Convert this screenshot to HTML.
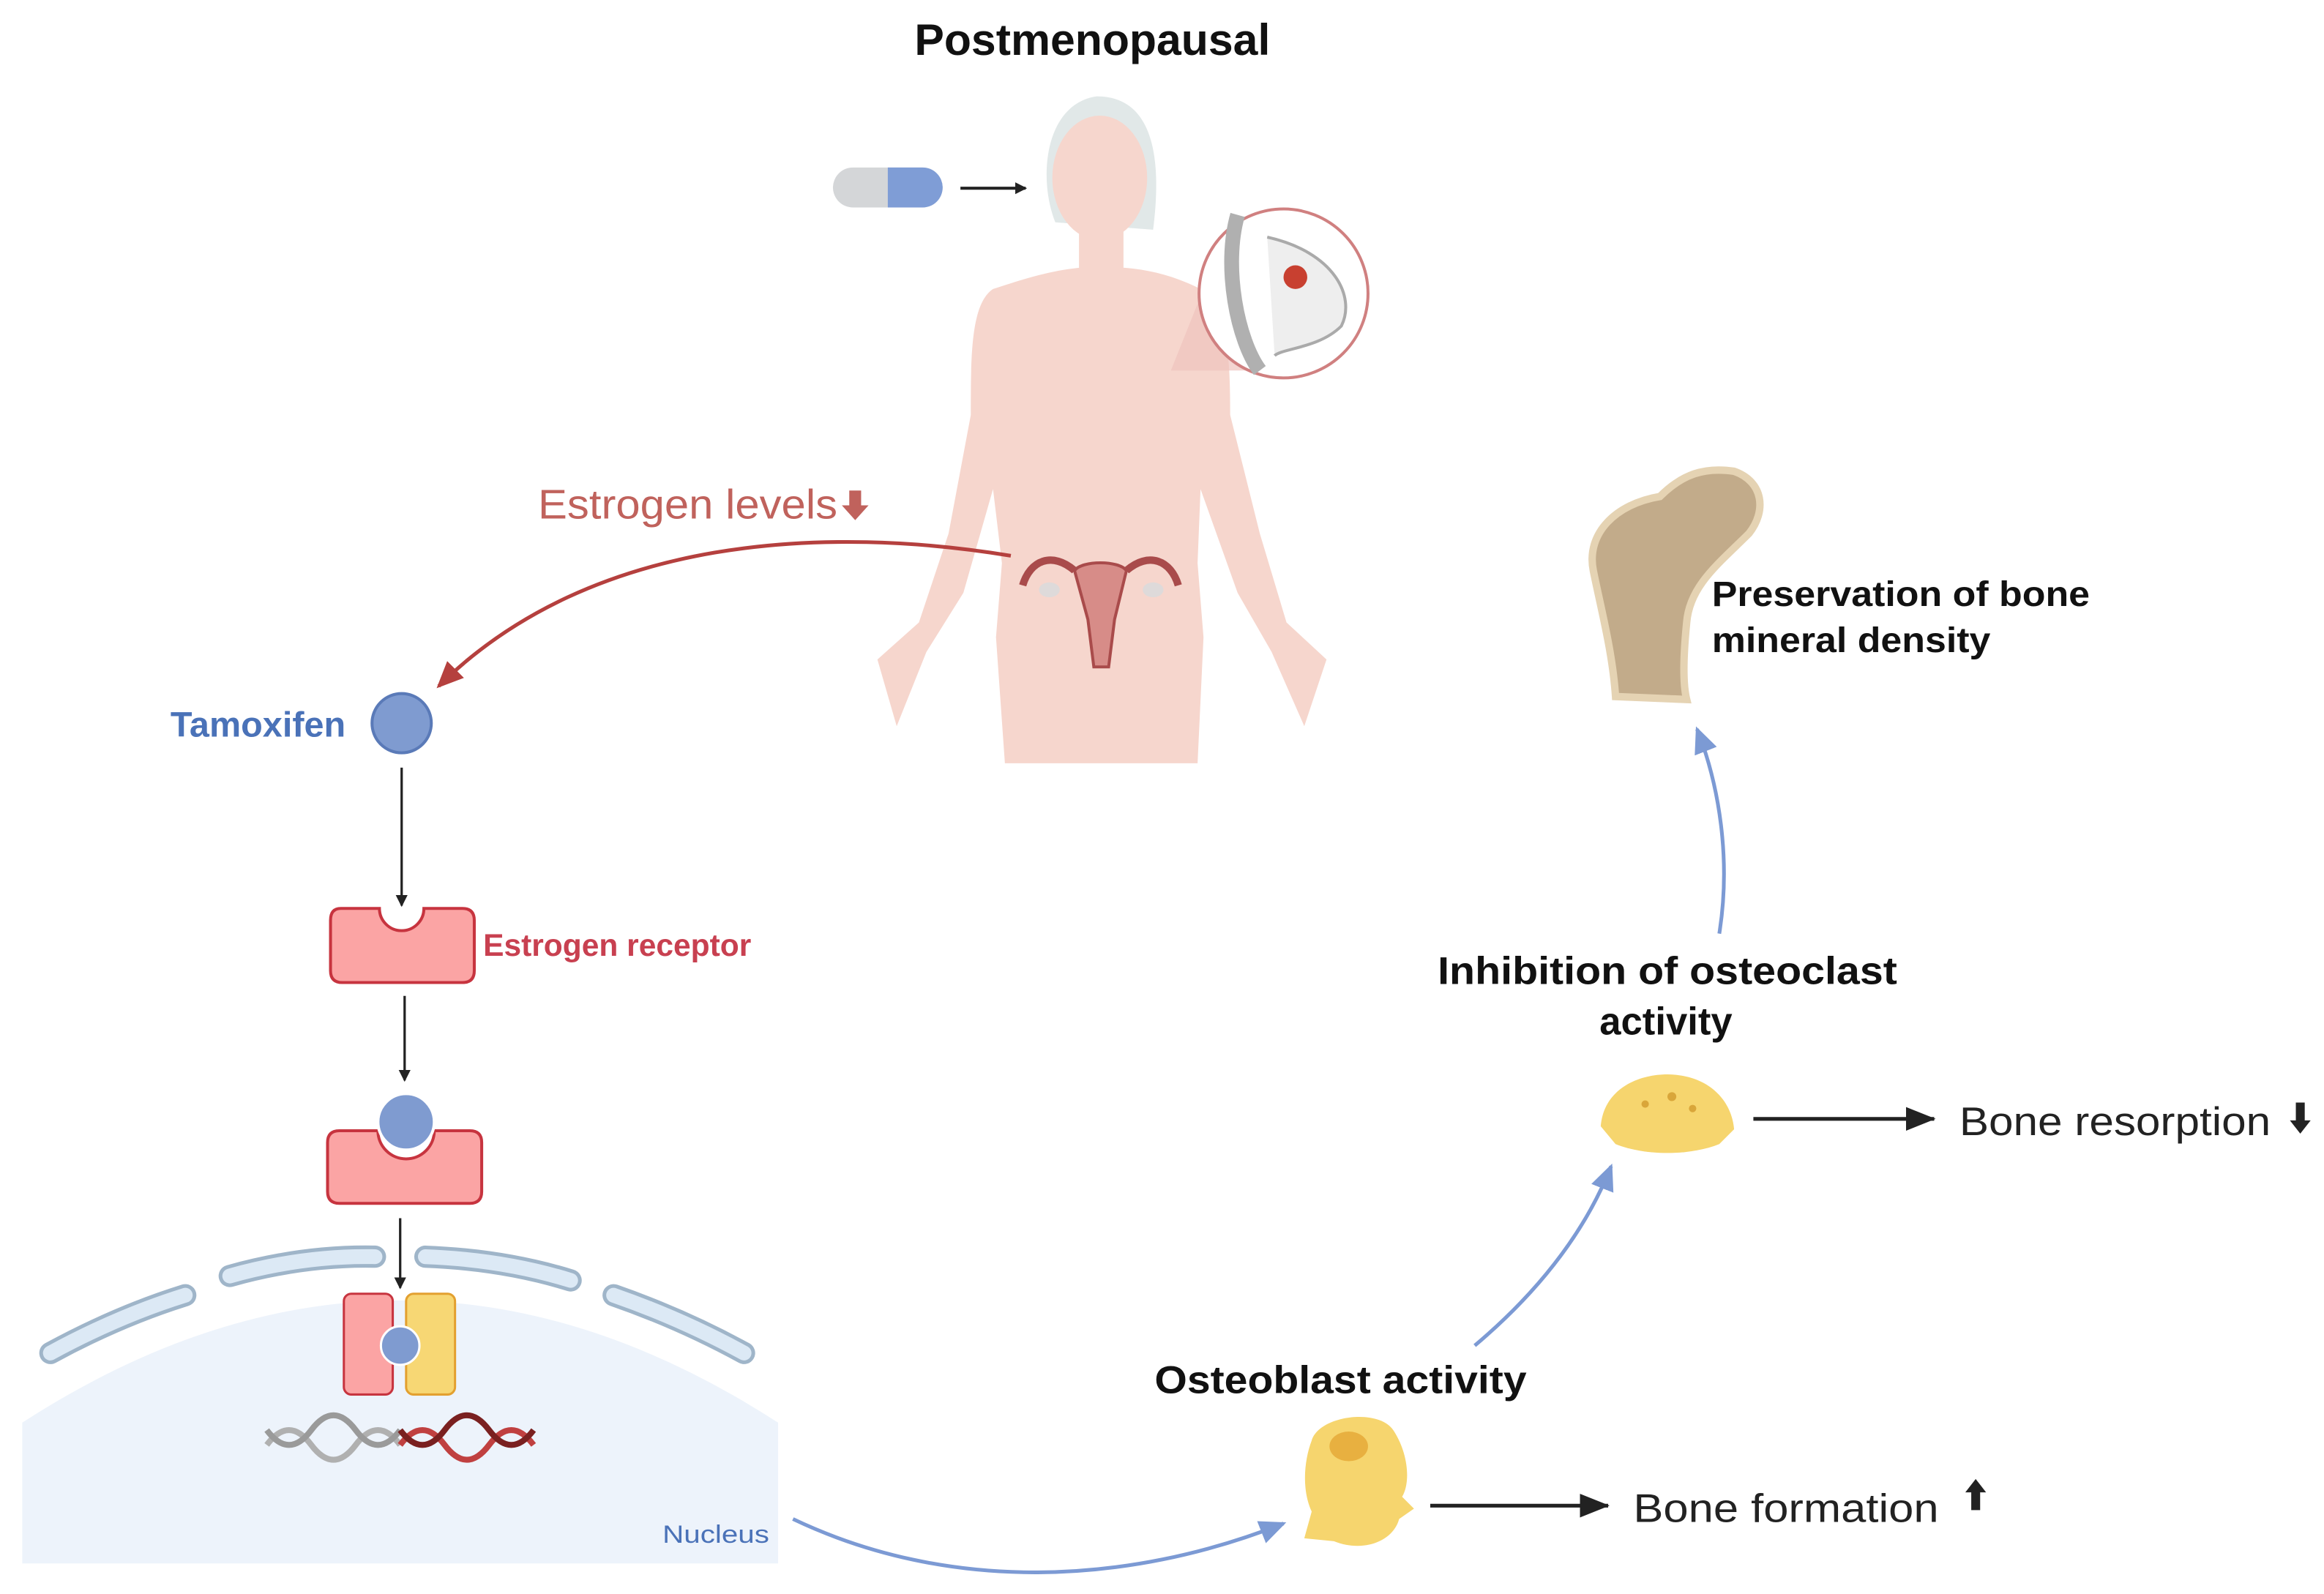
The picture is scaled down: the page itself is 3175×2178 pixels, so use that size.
<!DOCTYPE html>
<html><head><meta charset="utf-8"><style>
html,body{margin:0;padding:0;background:#fff;}
svg{display:block;}
text{font-family:"Liberation Sans",sans-serif;}
</style></head><body>
<svg width="3175" height="2178" viewBox="0 0 1568 1075.6" xmlns="http://www.w3.org/2000/svg">
<defs>
<marker id="ab" markerWidth="8" markerHeight="8" refX="7" refY="4" orient="auto" markerUnits="userSpaceOnUse"><path d="M0,0 L8,4 L0,8 z" fill="#222"/></marker>
<marker id="abig" markerWidth="20" markerHeight="16" refX="19" refY="8" orient="auto" markerUnits="userSpaceOnUse"><path d="M0,0 L20,8 L0,16 z" fill="#222"/></marker>
<marker id="ar" markerWidth="18" markerHeight="16" refX="16" refY="8" orient="auto" markerUnits="userSpaceOnUse"><path d="M0,0 L18,8 L0,16 z" fill="#b5403e"/></marker>
<marker id="abl" markerWidth="18" markerHeight="16" refX="16" refY="8" orient="auto" markerUnits="userSpaceOnUse"><path d="M0,0 L18,8 L0,16 z" fill="#7c9ad4"/></marker>
</defs>

<text x="737" y="37" font-size="30" font-weight="bold" text-anchor="middle" fill="#111">Postmenopausal</text>

<rect x="562" y="113" width="74" height="27" rx="13.5" fill="#d4d6d8"/>
<path d="M599,113 H622.5 A13.5,13.5 0 0 1 622.5,140 H599 z" fill="#7f9dd6"/>
<line x1="648" y1="127" x2="692" y2="127" stroke="#222" stroke-width="2" marker-end="url(#ab)"/>

<g fill="#f6d6cd">
<path d="M712,150 C700,120 705,70 740,65 C775,65 785,100 778,155 Z" fill="#e1e8e8"/>
<ellipse cx="742" cy="120" rx="32" ry="42"/>
<rect x="728" y="150" width="30" height="40"/>
<path d="M670,195 C700,185 720,180 742,180 C770,180 790,185 810,195 C828,205 830,240 830,280 L850,360 L868,420 L895,445 L880,490 L858,440 L835,400 L810,330 L808,380 L812,430 L808,515 L678,515 L672,430 L676,380 L670,330 L650,400 L625,440 L605,490 L592,445 L620,420 L640,360 L655,280 C655,240 655,205 670,195 Z"/>
</g>
<g fill="#c06a68" stroke="#a94b4b" stroke-width="2">
<path d="M725,385 C730,378 755,378 760,385 L752,418 L748,450 L738,450 L734,418 Z" fill="#d78c88"/>
<path d="M725,385 C710,372 695,378 690,395" fill="none" stroke-width="5"/>
<path d="M760,385 C775,372 790,378 795,395" fill="none" stroke-width="5"/>
</g>
<ellipse cx="708" cy="398" rx="7" ry="5" fill="#dedada"/>
<ellipse cx="778" cy="398" rx="7" ry="5" fill="#dedada"/>

<path d="M790,250 L820,175 L860,250 Z" fill="#efc3bd" opacity="0.7"/>
<circle cx="866" cy="198" r="57" fill="#fff" stroke="#d08080" stroke-width="2"/>
<path d="M835,145 C825,180 835,230 850,250" stroke="#b0b0b0" stroke-width="10" fill="none"/>
<path d="M855,160 C900,170 915,200 905,220 C890,235 865,235 860,240" stroke="#aaa" stroke-width="2" fill="#eeeeee"/>
<circle cx="874" cy="187" r="8" fill="#c84030"/>

<text x="363" y="350" font-size="28" fill="#c0625c" textLength="202" lengthAdjust="spacingAndGlyphs">Estrogen levels</text>
<path d="M573,331 h8 v10 h5 l-9,10 l-9,-10 h5 z" fill="#c0625c"/>
<path d="M682,375 C560,355 400,360 296,463" stroke="#b5403e" stroke-width="2.5" fill="none" marker-end="url(#ar)"/>

<text x="115" y="497" font-size="24" font-weight="bold" fill="#4a72b8">Tamoxifen</text>
<circle cx="271" cy="488" r="20" fill="#7f9bd0" stroke="#5a7ab8" stroke-width="2"/>
<line x1="271" y1="518" x2="271" y2="611" stroke="#222" stroke-width="1.6" marker-end="url(#ab)"/>

<path d="M230,613 H256 A15,15 0 0 0 286,613 H312 Q320,613 320,621 V655 Q320,663 312,663 H231 Q223,663 223,655 V621 Q223,613 230,613 Z" fill="#fba4a4" stroke="#c7343f" stroke-width="2"/>
<text x="326" y="645" font-size="21" font-weight="bold" fill="#c84050">Estrogen receptor</text>
<line x1="273" y1="672" x2="273" y2="729" stroke="#222" stroke-width="1.6" marker-end="url(#ab)"/>

<path d="M229,763 H255 A19,19 0 0 0 293,763 H317 Q325,763 325,771 V804 Q325,812 317,812 H229 Q221,812 221,804 V771 Q221,763 229,763 Z" fill="#fba4a4" stroke="#c7343f" stroke-width="2"/>
<circle cx="274" cy="757" r="19" fill="#7f9bd0" stroke="#fff" stroke-width="2"/>

<path d="M15,960 Q270,795 525,960 L525,1055 L15,1055 Z" fill="#edf3fb"/>
<g fill="none" stroke-linecap="round" stroke="#9fb5c9" stroke-width="15">
<path d="M34,913 Q80,888 125,874"/>
<path d="M155,861 Q205,847 253,848"/>
<path d="M287,848 Q340,850 385,864"/>
<path d="M414,874 Q460,890 502,913"/>
</g>
<g fill="none" stroke-linecap="round" stroke="#dce9f5" stroke-width="10">
<path d="M34,913 Q80,888 125,874"/>
<path d="M155,861 Q205,847 253,848"/>
<path d="M287,848 Q340,850 385,864"/>
<path d="M414,874 Q460,890 502,913"/>
</g>
<line x1="270" y1="822" x2="270" y2="869" stroke="#222" stroke-width="1.6" marker-end="url(#ab)"/>
<rect x="232" y="873" width="33" height="68" rx="5" fill="#fba4a4" stroke="#c7343f" stroke-width="1.5"/>
<rect x="274" y="873" width="33" height="68" rx="5" fill="#f7d774" stroke="#e3a030" stroke-width="1.5"/>
<circle cx="270" cy="908" r="13" fill="#7f9bd0" stroke="#fff" stroke-width="1.5"/>
<path d="M180,975 Q195,955 210,975 T240,975 T270,975" stroke="#b0b0b0" stroke-width="4" fill="none"/>
<path d="M180,965 Q195,985 210,965 T240,965 T270,965" stroke="#9a9a9a" stroke-width="4" fill="none"/>
<path d="M270,975 Q285,955 300,975 T330,975 T360,975" stroke="#c04040" stroke-width="4" fill="none"/>
<path d="M270,965 Q285,985 300,965 T330,965 T360,965" stroke="#7a2020" stroke-width="4" fill="none"/>
<text x="447" y="1041" font-size="17" fill="#4a72b8" textLength="72" lengthAdjust="spacingAndGlyphs">Nucleus</text>

<path d="M535,1025 C640,1075 760,1070 866,1028" stroke="#7c9ad4" stroke-width="2.5" fill="none" marker-end="url(#abl)"/>

<path d="M885,972 C890,955 930,950 940,965 C950,980 952,1000 946,1010 L954,1018 L944,1025 C940,1040 920,1048 900,1040 L880,1038 L885,1020 C878,1005 880,985 885,972 Z" fill="#f6d56e"/>
<ellipse cx="910" cy="976" rx="13" ry="10" fill="#e8b040"/>
<text x="779" y="940" font-size="26" font-weight="bold" fill="#111" textLength="251" lengthAdjust="spacingAndGlyphs">Osteoblast activity</text>
<line x1="965" y1="1016" x2="1085" y2="1016" stroke="#222" stroke-width="2.5" marker-end="url(#abig)"/>
<text x="1102" y="1027" font-size="27" fill="#222" textLength="206" lengthAdjust="spacingAndGlyphs">Bone formation</text>
<path d="M1326,1007 l7,-9 l7,9 h-4 v12 h-6 v-12 z" fill="#222"/>

<path d="M995,908 C1040,870 1070,830 1087,787" stroke="#7c9ad4" stroke-width="2.5" fill="none" marker-end="url(#abl)"/>

<path d="M1080,760 C1082,735 1105,725 1125,725 C1150,725 1168,740 1170,762 L1160,772 C1140,780 1110,780 1090,772 Z" fill="#f6d56e"/>
<circle cx="1110" cy="745" r="2.5" fill="#d9a63a"/><circle cx="1128" cy="740" r="3" fill="#d9a63a"/><circle cx="1142" cy="748" r="2.5" fill="#d9a63a"/>
<text x="970" y="664" font-size="26" font-weight="bold" fill="#111" textLength="310" lengthAdjust="spacingAndGlyphs">Inhibition of osteoclast</text>
<text x="1124" y="698" font-size="26" font-weight="bold" fill="#111" text-anchor="middle">activity</text>
<line x1="1183" y1="755" x2="1305" y2="755" stroke="#222" stroke-width="2.5" marker-end="url(#abig)"/>
<text x="1322" y="766" font-size="27" fill="#222" textLength="210" lengthAdjust="spacingAndGlyphs">Bone resorption</text>
<path d="M1549,744 h6 v12 h4 l-7,9 l-7,-9 h4 z" fill="#222"/>

<path d="M1160,630 C1168,580 1160,530 1145,492" stroke="#7c9ad4" stroke-width="2.5" fill="none" marker-end="url(#abl)"/>

<path d="M1090,470 C1088,440 1080,410 1075,385 C1070,360 1090,340 1120,335 C1135,320 1150,315 1170,318 C1190,325 1192,345 1180,360 C1160,380 1140,395 1138,420 C1136,440 1135,460 1138,472 Z" fill="#c2ab8a" stroke="#e5d3b3" stroke-width="5"/>
<text x="1155" y="409" font-size="24" font-weight="bold" fill="#111" textLength="255" lengthAdjust="spacingAndGlyphs">Preservation of bone</text>
<text x="1155" y="440" font-size="24" font-weight="bold" fill="#111" textLength="188" lengthAdjust="spacingAndGlyphs">mineral density</text>
</svg>
</body></html>
